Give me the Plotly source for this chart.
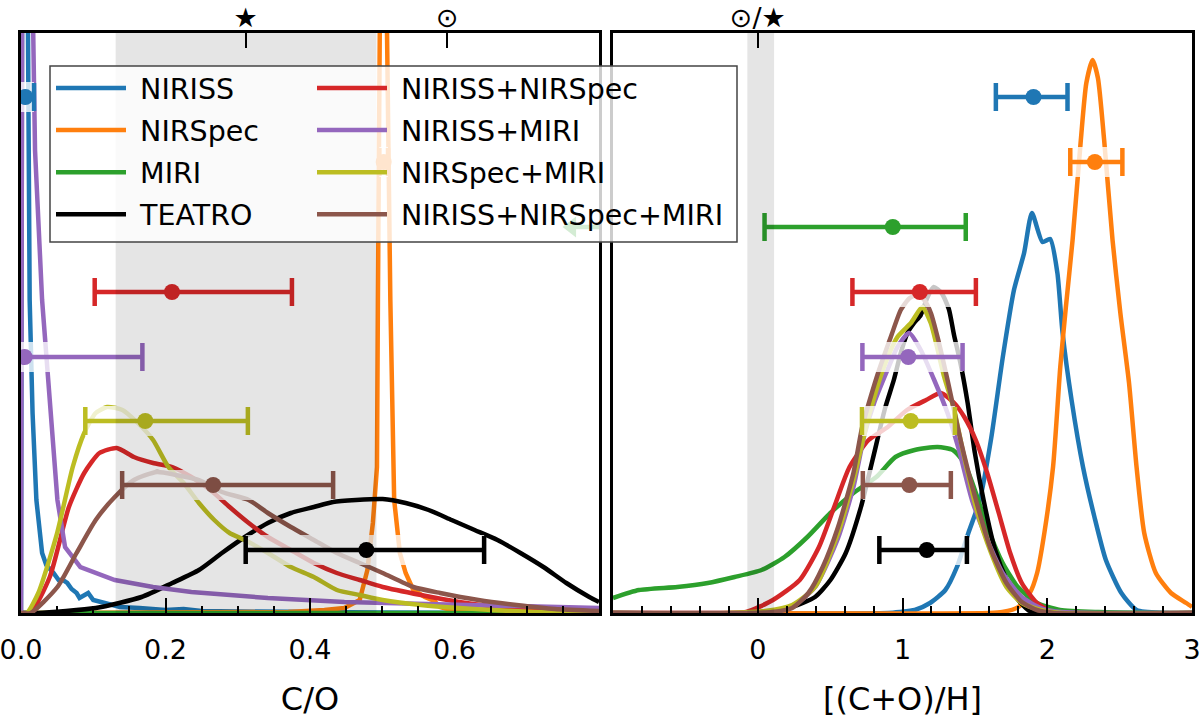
import plotly.graph_objects as go

# ---------------- names / colours ----------------
names = ["NIRISS", "NIRSpec", "MIRI", "TEATRO",
         "NIRISS+NIRSpec", "NIRISS+MIRI", "NIRSpec+MIRI", "NIRISS+NIRSpec+MIRI"]
colors = {"NIRISS": "#1f77b4", "NIRSpec": "#ff7f0e", "MIRI": "#2ca02c", "TEATRO": "#000000",
          "NIRISS+NIRSpec": "#d62728", "NIRISS+MIRI": "#9467bd",
          "NIRSpec+MIRI": "#bcbd22", "NIRISS+NIRSpec+MIRI": "#8c564b"}
legend_col1 = ["NIRISS", "NIRSpec", "MIRI", "TEATRO"]

# ---------------- left panel: C/O posteriors (arbitrary density units) ----------------
co_niriss_x = [0.0, 0.002, 0.006, 0.009, 0.012, 0.016, 0.0213, 0.0292, 0.035, 0.045, 0.052, 0.058, 0.064,
               0.070, 0.077, 0.081, 0.087, 0.093, 0.100, 0.117, 0.137, 0.164, 0.200, 0.225, 0.250, 0.300,
               0.350, 0.400, 0.500, 0.600, 0.800]
co_niriss_y = [0, 800, 1000, 600, 313, 200, 113, 60, 48, 40, 33, 33, 30, 24, 20, 15, 18, 20, 13, 10, 6, 5,
               3, 4, 2, 1.5, 1, 1, 0.5, 0.3, 0]
co_nirspec_x = [0.0, 0.30, 0.37, 0.42, 0.4476, 0.4688, 0.4794, 0.487, 0.4927, 0.494, 0.4962, 0.5015, 0.5066,
                0.5112, 0.5165, 0.5244, 0.5324, 0.543, 0.5589, 0.5721, 0.58, 0.60, 0.70, 0.80]
co_nirspec_y = [0, 0, 1, 3, 5, 13, 43, 90, 146, 313, 580, 1100, 580, 313, 113, 60, 40, 23, 16, 12, 6, 2,
                0.5, 0]
co_miri_x = [0.0, 0.8]
co_miri_y = [0, 0]
co_teatro_x = [0.0, 0.024, 0.1034, 0.1669, 0.2093, 0.2463, 0.2781, 0.3099, 0.3417, 0.3735, 0.4053, 0.4318,
               0.4635, 0.5006, 0.5324, 0.5642, 0.596, 0.6278, 0.6595, 0.6913, 0.7231, 0.7548, 0.7866, 0.80]
co_teatro_y = [0, 0, 5, 16, 30, 43, 60, 76, 90, 100, 106, 111, 113, 114, 110, 103, 93, 83, 73, 60, 46, 30,
               16, 11]
co_nn_x = [0.0, 0.0133, 0.0398, 0.0663, 0.0875, 0.1086, 0.1325, 0.1563, 0.1828, 0.2093, 0.2358, 0.2622,
           0.2887, 0.3152, 0.3417, 0.3735, 0.4053, 0.4371, 0.4688, 0.5006, 0.5536, 0.6066, 0.6595, 0.7125, 0.80]
co_nn_y = [0, 0, 36, 106, 140, 160, 165, 156, 150, 146, 136, 123, 106, 90, 76, 63, 50, 40, 33, 26, 18, 11,
           6, 3, 1]
co_nm_x = [0.0, 0.003, 0.008, 0.0157, 0.0194, 0.0292, 0.0398, 0.0504, 0.061, 0.0822, 0.1298, 0.1828, 0.2358,
           0.3417, 0.4476, 0.5536, 0.6595, 0.80]
co_nm_y = [0, 1200, 1000, 600, 463, 313, 213, 113, 66, 46, 33, 26, 21, 15, 11, 9, 7, 5]
co_sm_x = [0.0, 0.008, 0.024, 0.050, 0.0716, 0.0875, 0.1034, 0.1192, 0.1404, 0.1616, 0.1828, 0.204, 0.2252,
           0.2463, 0.2675, 0.2887, 0.3099, 0.3417, 0.3735, 0.4053, 0.4371, 0.4688, 0.5006, 0.5536, 0.6066,
           0.7125, 0.80]
co_sm_y = [0, 0, 20, 80, 146, 180, 200, 206, 203, 190, 173, 146, 130, 110, 93, 80, 73, 60, 46, 36, 23, 18,
           13, 8, 5, 1, 0.5]
co_nsm_x = [0.0, 0.0133, 0.0504, 0.0769, 0.1034, 0.1298, 0.1563, 0.1881, 0.2146, 0.2463, 0.2781, 0.3152,
            0.3417, 0.3735, 0.4053, 0.4371, 0.4688, 0.5006, 0.543, 0.5801, 0.6331, 0.686, 0.7389, 0.80]
co_nsm_y = [0, 0, 26, 60, 93, 116, 133, 141, 138, 133, 121, 113, 100, 86, 73, 60, 50, 40, 26, 20, 13, 8, 4, 2]

# ---------------- right panel: [(C+O)/H] posteriors ----------------
met_niriss_x = [-1.0, 0.90, 0.98, 1.085, 1.19, 1.296, 1.376, 1.455, 1.534, 1.613, 1.692, 1.77, 1.84, 1.894,
                1.967, 2.02, 2.07, 2.106, 2.168, 2.247, 2.326, 2.405, 2.512, 2.617, 2.80, 3.0]
met_niriss_y = [0, 0, 1, 3, 10, 23, 46, 80, 113, 175, 255, 323, 360, 400, 371, 374, 340, 280, 213, 146, 96,
                53, 20, 3, 0, 0]
met_nirspec_x = [-1.0, 1.60, 1.69, 1.80, 1.88, 1.93, 1.98, 2.04, 2.09, 2.128, 2.175, 2.232, 2.27, 2.313,
                 2.35, 2.393, 2.451, 2.505, 2.565, 2.617, 2.67, 2.75, 2.855, 2.96, 3.0]
met_nirspec_y = [0, 0, 1, 6, 20, 40, 80, 146, 246, 305, 373, 473, 530, 553, 535, 473, 373, 300, 230, 146,
                 80, 40, 20, 10, 6]
met_miri_x = [-1.0, -0.82, -0.556, -0.345, -0.16, 0.026, 0.185, 0.343, 0.502, 0.661, 0.819, 0.951, 1.084,
              1.242, 1.348, 1.427, 1.507, 1.586, 1.692, 1.797, 1.929, 2.088, 2.353, 3.0]
met_miri_y = [15, 23, 26, 30, 36, 43, 56, 76, 100, 120, 136, 156, 163, 166, 163, 150, 120, 86, 50, 26, 10,
              3, 1, 0]
met_teatro_x = [-1.0, 0.0, 0.07, 0.238, 0.396, 0.502, 0.608, 0.713, 0.793, 0.88, 0.94, 0.988, 1.034, 1.08,
                1.126, 1.17, 1.215, 1.27, 1.32, 1.356, 1.403, 1.45, 1.50, 1.56, 1.64, 1.72, 1.80, 1.88, 2.0,
                3.0]
met_teatro_y = [0, 0, 1, 6, 16, 33, 60, 106, 153, 205, 233, 260, 280, 290, 298, 315, 326, 320, 304, 278,
                248, 210, 160, 113, 63, 33, 13, 2, 0, 0]
met_nn_x = [-1.0, -0.3, -0.08, 0.105, 0.29, 0.423, 0.528, 0.634, 0.766, 0.898, 1.031, 1.163, 1.265, 1.357,
            1.427, 1.506, 1.585, 1.665, 1.744, 1.824, 1.929, 2.035, 2.2, 3.0]
met_nn_y = [0, 0, 1, 13, 33, 66, 106, 146, 173, 186, 203, 213, 220, 210, 196, 173, 140, 100, 60, 30, 10, 1,
            0, 0]
met_nm_x = [-1.0, 0.0, 0.1, 0.238, 0.396, 0.555, 0.661, 0.74, 0.804, 0.896, 0.965, 1.046, 1.126, 1.219,
            1.311, 1.39, 1.48, 1.586, 1.692, 1.824, 1.956, 2.1, 3.0]
met_nm_y = [0, 0, 1, 6, 26, 75, 126, 180, 210, 243, 266, 280, 263, 233, 200, 163, 113, 73, 40, 16, 5, 1, 0]
met_sm_x = [-1.0, -0.2, 0.05, 0.238, 0.396, 0.555, 0.661, 0.766, 0.872, 0.965, 1.058, 1.137, 1.195, 1.288,
            1.357, 1.42, 1.507, 1.612, 1.718, 1.824, 1.956, 2.1, 3.0]
met_sm_y = [0, 0, 2, 8, 26, 80, 133, 196, 246, 276, 290, 306, 290, 236, 203, 160, 106, 60, 26, 10, 3, 0, 0]
met_nsm_x = [-1.0, -0.2, 0.1, 0.238, 0.35, 0.449, 0.555, 0.661, 0.72, 0.78, 0.838, 0.919, 0.988, 1.05,
             1.103, 1.15, 1.196, 1.242, 1.311, 1.401, 1.507, 1.612, 1.718, 1.824, 1.929, 2.05, 3.0]
met_nsm_y = [0, 0, 1, 5, 20, 46, 86, 140, 185, 216, 243, 276, 303, 315, 318, 313, 300, 276, 233, 173, 113,
             63, 30, 11, 3, 0, 0]

co_curves = {"NIRISS": (co_niriss_x, co_niriss_y), "NIRSpec": (co_nirspec_x, co_nirspec_y),
             "MIRI": (co_miri_x, co_miri_y), "TEATRO": (co_teatro_x, co_teatro_y),
             "NIRISS+NIRSpec": (co_nn_x, co_nn_y), "NIRISS+MIRI": (co_nm_x, co_nm_y),
             "NIRSpec+MIRI": (co_sm_x, co_sm_y), "NIRISS+NIRSpec+MIRI": (co_nsm_x, co_nsm_y)}
met_curves = {"NIRISS": (met_niriss_x, met_niriss_y), "NIRSpec": (met_nirspec_x, met_nirspec_y),
              "MIRI": (met_miri_x, met_miri_y), "TEATRO": (met_teatro_x, met_teatro_y),
              "NIRISS+NIRSpec": (met_nn_x, met_nn_y), "NIRISS+MIRI": (met_nm_x, met_nm_y),
              "NIRSpec+MIRI": (met_sm_x, met_sm_y), "NIRISS+NIRSpec+MIRI": (met_nsm_x, met_nsm_y)}
co_linear = {"NIRISS", "NIRSpec", "NIRISS+MIRI"}

# ---------------- error bars (median with asymmetric errors) ----------------
eb_names = ["NIRISS", "NIRSpec", "MIRI", "NIRISS+NIRSpec", "NIRISS+MIRI", "NIRSpec+MIRI",
            "NIRISS+NIRSpec+MIRI", "TEATRO"]
eb_level = [516, 451, 386, 321, 256, 192, 128, 63]
co_med = [0.006, 0.502, None, 0.209, 0.005, 0.172, 0.266, 0.478]
co_err_lo = [0.010, 0.006, None, 0.107, 0.030, 0.083, 0.126, 0.167]
co_err_hi = [0.012, 0.006, None, 0.166, 0.163, 0.142, 0.166, 0.163]
miri_co_limit = 0.762   # MIRI C/O only bounded from below in this range (arrow)
met_med = [1.905, 2.329, 0.933, 1.12, 1.04, 1.057, 1.047, 1.168]
met_err_lo = [0.26, 0.17, 0.886, 0.466, 0.317, 0.337, 0.321, 0.328]
met_err_hi = [0.235, 0.19, 0.504, 0.387, 0.375, 0.305, 0.287, 0.277]

# ---------------- reference values ----------------
co_range = [0, 0.8]
met_range = [-1, 3]
co_band = [0.131, 0.492]
met_band = [-0.072, 0.113]
co_top_vals = [0.311, 0.59]
co_top_text = ["★", "⊙"]
met_top_vals = [0.0]
met_top_text = ["⊙/★"]
co_tickvals = [0, 0.2, 0.4, 0.6]
co_ticktext = ["0.0", "0.2", "0.4", "0.6"]
met_tickvals = [0, 1, 2, 3]

FONT = "DejaVu Sans"
W, H = 1200, 718
LW = 4.5
EPS = 1e-6

fig = go.Figure()

# curves
for panel, curves, xa in (("co", co_curves, "x"), ("met", met_curves, "x2")):
    for n in names:
        xs, ys = curves[n]
        linear = panel == "co" and n in co_linear
        fig.add_trace(go.Scatter(
            x=xs, y=ys, mode="lines", name="\u00a0" + n, xaxis=xa, yaxis="y" if xa == "x" else "y2",
            line=dict(color=colors[n], width=LW, shape="linear" if linear else "spline",
                      smoothing=0.6),
            showlegend=(panel == "co"), legendgroup=n,
            legend="legend" if n in legend_col1 else "legend2",
            hoverinfo="skip"))

# error bars with white halo
def add_eb(xa, ya, med, lo, hi, lev, c):
    fig.add_trace(go.Scatter(x=[med - lo, med + hi], y=[lev, lev], mode="lines", xaxis=xa, yaxis=ya,
                             line=dict(color="rgba(255,255,255,0.78)", width=30),
                             showlegend=False, hoverinfo="skip"))
    fig.add_trace(go.Scatter(x=[med], y=[lev], mode="markers", xaxis=xa, yaxis=ya,
                             marker=dict(color=c, size=16),
                             error_x=dict(type="data", symmetric=False, array=[hi], arrayminus=[lo],
                                          color=c, thickness=4.5, width=14),
                             showlegend=False, hoverinfo="skip"))

for i, n in enumerate(eb_names):
    if co_med[i] is not None:
        add_eb("x", "y", co_med[i], co_err_lo[i], co_err_hi[i], eb_level[i], colors[n])
    else:
        fig.add_trace(go.Scatter(x=[miri_co_limit, co_range[1] + 0.1], y=[eb_level[i]] * 2, mode="lines",
                                 xaxis="x", yaxis="y", line=dict(color=colors[n], width=4.5),
                                 showlegend=False, hoverinfo="skip"))
        fig.add_trace(go.Scatter(x=[miri_co_limit], y=[eb_level[i]], mode="markers", xaxis="x", yaxis="y",
                                 marker=dict(color=colors[n], size=18, symbol="triangle-left"),
                                 showlegend=False, hoverinfo="skip"))
    add_eb("x2", "y2", met_med[i], met_err_lo[i], met_err_hi[i], eb_level[i], colors[n])

# invisible helpers so top axes are drawn
fig.add_trace(go.Scatter(x=co_top_vals, y=[0] * len(co_top_vals), xaxis="x3", yaxis="y", mode="markers",
                         marker=dict(opacity=0), showlegend=False, hoverinfo="skip"))
fig.add_trace(go.Scatter(x=met_top_vals, y=[0] * len(met_top_vals), xaxis="x4", yaxis="y2", mode="markers",
                         marker=dict(opacity=0), showlegend=False, hoverinfo="skip"))

# shaded reference bands (translucent grey drawn over the data)
for xr, band in (("x", co_band), ("x2", met_band)):
    fig.add_shape(type="rect", xref=xr, yref=("y domain" if xr == "x" else "y2 domain"),
                  x0=band[0], x1=band[1], y0=0, y1=1, fillcolor="rgba(0,0,0,0.1)", line_width=0,
                  layer="above")

# legend box (semi-transparent)
fig.add_shape(type="rect", xref="paper", yref="paper", x0=50 / W, x1=737 / W, y0=1 - 242 / H, y1=1 - 66 / H,
              fillcolor="rgba(255,255,255,0.8)", line=dict(color="#444444", width=1.5), layer="above")

xd1 = [21 / W, 599 / W]
xd2 = [613 / W, 1192 / W]
yd = [105 / H, 685 / H]
tickfont = dict(family=FONT, size=27, color="black")
common_x = dict(showline=True, linecolor="black", linewidth=2.5, mirror=True, ticks="inside", ticklen=15,
                tickwidth=2, tickcolor="black", showgrid=False, zeroline=False, tickfont=tickfont,
                ticklabelstandoff=11, ticklabeloverflow="allow", automargin=False)
common_top = dict(ticks="inside", ticklen=15, tickwidth=2, tickcolor="black", showline=False, showgrid=False,
                  zeroline=False, tickfont=dict(family=FONT, size=27, color="black"),
                  ticklabelstandoff=0, ticklabeloverflow="allow", automargin=False)
common_y = dict(showline=True, linecolor="black", linewidth=2.5, mirror=True, ticks="", showticklabels=False,
                showgrid=False, zeroline=False, range=[0, 580], domain=yd, automargin=False)
leg_common = dict(xanchor="left", yanchor="top", bgcolor="rgba(0,0,0,0)", borderwidth=0,
                  font=dict(family=FONT, size=28.5), itemwidth=70, tracegroupgap=2, traceorder="grouped")

fig.update_layout(
    width=W, height=H, margin=dict(l=0, r=0, t=0, b=0, autoexpand=False), plot_bgcolor="white",
    paper_bgcolor="white",
    font=dict(family=FONT, color="black"),
    xaxis=dict(domain=xd1, range=[co_range[0] - EPS, co_range[1]], tickmode="array", tickvals=co_tickvals,
               ticktext=co_ticktext,
               minor=dict(ticks="inside", ticklen=7, tickwidth=2, tickcolor="black", dtick=0.05, tick0=0),
               title=dict(text="C/O", font=dict(family=FONT, size=32), standoff=32), anchor="y",
               **common_x),
    xaxis2=dict(domain=xd2, range=[met_range[0], met_range[1] + EPS], tickmode="array",
                tickvals=met_tickvals,
                minor=dict(ticks="inside", ticklen=7, tickwidth=2, tickcolor="black", dtick=0.2, tick0=0),
                title=dict(text="[(C+O)/H]", font=dict(family=FONT, size=32), standoff=32), anchor="y2",
                **common_x),
    xaxis3=dict(overlaying="x", side="top", anchor="y", range=[co_range[0] - EPS, co_range[1]],
                tickmode="array", tickvals=co_top_vals, ticktext=co_top_text, **common_top),
    xaxis4=dict(overlaying="x2", side="top", anchor="y2", range=[met_range[0], met_range[1] + EPS],
                tickmode="array", tickvals=met_top_vals, ticktext=met_top_text, **common_top),
    yaxis=dict(anchor="x", **common_y),
    yaxis2=dict(anchor="x2", **common_y),
    legend=dict(x=51 / W, y=1 - 63 / H, **leg_common),
    legend2=dict(x=312 / W, y=1 - 63 / H, **leg_common),
    showlegend=True,
)

fig.write_html("out.html")
